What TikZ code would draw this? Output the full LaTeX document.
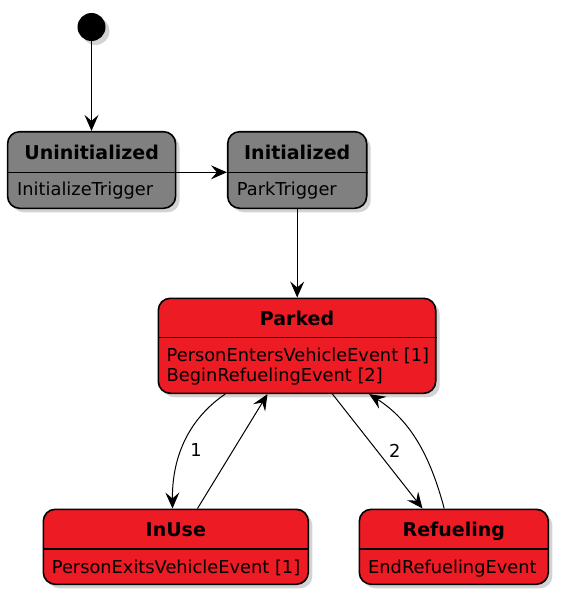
\documentclass[tikz,border=0pt]{standalone}
\usepackage{fontspec}
\setmainfont{DejaVu Sans}
\usetikzlibrary{calc,arrows.meta,shadows}
\definecolor{stategray}{RGB}{128,128,128}
\definecolor{statered}{RGB}{236,27,36}

\begin{document}
\begin{tikzpicture}[x=1pt,y=-1pt,
    state/.style={draw,line width=1.6pt,rounded corners=12pt,inner sep=0pt,
      drop shadow={shadow xshift=4pt,shadow yshift=-4pt,opacity=.35}},
    gray state/.style={state,fill=stategray},
    red state/.style={state,fill=statered},
    title/.style={anchor=base,inner sep=0pt,font=\fontsize{19}{22}\selectfont\bfseries},
    body/.style={anchor=base west,inner sep=0pt,font=\fontsize{17.8}{20}\selectfont},
    divider/.style={line width=1.6pt},
    trans/.style={-{Stealth[length=16pt,width=14pt,inset=6pt]},line width=1pt},
    lbl/.style={inner sep=0pt,font=\fontsize{17.8}{20}\selectfont}]
    \useasboundingbox (0,0) rectangle (562,599);

    % initial state
    \node[circle,fill=black,minimum size=28pt,inner sep=0pt,
      drop shadow={shadow xshift=4pt,shadow yshift=-4pt,opacity=.35}] (start) at (91.5,27) {};

    % states
    \node[gray state,minimum width=168pt,minimum height=76.6pt] (uninit) at (91.6,170) {};
    \node[gray state,minimum width=139pt,minimum height=76.6pt] (init) at (297.2,170) {};
    \node[red state,minimum width=277.4pt,minimum height=95pt] (parked) at (297,345.8) {};
    \node[red state,minimum width=265pt,minimum height=75pt] (inuse) at (175.8,546.8) {};
    \node[red state,minimum width=189pt,minimum height=75pt] (refuel) at (453.8,546.8) {};

    \draw[divider] (uninit.west |- 0,172.3) -- (uninit.east |- 0,172.3);
    \draw[divider] (init.west |- 0,172.3) -- (init.east |- 0,172.3);
    \draw[divider] (parked.west |- 0,337.3) -- (parked.east |- 0,337.3);
    \draw[divider] (inuse.west |- 0,549) -- (inuse.east |- 0,549);
    \draw[divider] (refuel.west |- 0,549) -- (refuel.east |- 0,549);

    % texts
    \node[title] (uninitT) at (91.6,159) {Uninitialized};
    \node[body] (uninitB) at (17,195) {InitializeTrigger};
    \node[title] (initT) at (297.2,159) {Initialized};
    \node[body] (initB) at (236.7,195) {ParkTrigger};
    \node[title] (parkedT) at (297,325.5) {Parked};
    \node[body] (parkedB1) at (166.5,361.7) {PersonEntersVehicleEvent [1]};
    \node[body] (parkedB2) at (166.5,381.7) {BeginRefuelingEvent [2]};
    \node[title] (inuseT) at (175.8,536) {InUse};
    \node[body] (inuseB) at (51.7,573) {PersonExitsVehicleEvent [1]};
    \node[title] (refuelT) at (453.8,536) {Refueling};
    \node[body] (refuelB) at (368,573) {EndRefuelingEvent};

    % transitions
    \draw[trans] (start.south) -- (start.south |- uninit.north);
    \draw[trans] (uninit.east |- 0,172.3) -- (init.west |- 0,172.3);
    \draw[trans] (init.south) -- (init.south |- parked.north);
    \draw[trans] ($(parked.south west)+(67.7,0)$) .. controls (190,418) and (172,455) ..
      node[lbl,pos=.55,anchor=west,xshift=7pt,yshift=-4pt] {1} ($(inuse.north west)+(130,0)$);
    \draw[trans] ($(inuse.north west)+(155,0)$) -- ($(parked.south west)+(110,0)$);
    \draw[trans] ($(parked.south west)+(175,0)$) --
      node[lbl,midway,anchor=west,xshift=11pt] {2} ($(refuel.north west)+(64,0)$);
    \draw[trans] ($(refuel.north west)+(85.7,0)$) .. controls (430,455) and (410,420) ..
      ($(parked.south west)+(211.7,0)$);
\end{tikzpicture}
\end{document}
